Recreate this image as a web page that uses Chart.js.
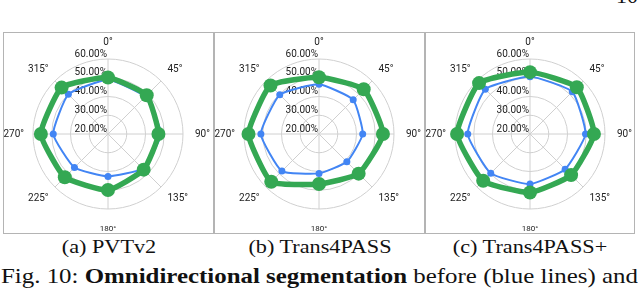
<!DOCTYPE html>
<html>
<head>
<meta charset="utf-8">
<script src="https://cdn.jsdelivr.net/npm/chart.js@4.4.1/dist/chart.umd.min.js"></script>
<style>
  html, body { margin: 0; padding: 0; background: #fff; }
  body { width: 640px; height: 288px; position: relative; overflow: hidden; }
  .box { position: absolute; top: 32px; height: 202px; border: 1px solid #b4b4b4; box-sizing: border-box; }
  .box canvas { position: absolute; left: 0; top: 0; }
  .cap { position: absolute; top: 236px; width: 200px; font-family: "Liberation Serif", "Times New Roman", serif; font-size: 19px; line-height: 22px; color: #111; text-align: center; white-space: nowrap; transform: scaleX(1.17); transform-origin: 50% 50%; }
  .fig { position: absolute; left: 1px; top: 263px; font-family: "Liberation Serif", "Times New Roman", serif; font-size: 22px; line-height: 26px; color: #111; white-space: nowrap; transform-origin: 0 0; }
  .pg { position: absolute; right: 2px; top: -17px; font-family: "Liberation Serif", serif; font-size: 22px; color: #111; }
</style>
</head>
<body>
<div class="pg">10</div>
<div class="box" style="left:3px;width:211px"><canvas id="pvt" width="209" height="200"></canvas></div>
<div class="box" style="left:214px;width:211px"><canvas id="trans" width="209" height="200"></canvas></div>
<div class="box" style="left:425px;width:210px"><canvas id="plus" width="208" height="200"></canvas></div>
<div class="cap" style="left:9px">(a) PVTv2</div>
<div class="cap" style="left:220px">(b) Trans4PASS</div>
<div class="cap" style="left:430px">(c) Trans4PASS+</div>
<div class="fig" id="fig">Fig. 10: <b>Omnidirectional segmentation</b> before (blue lines) and</div>
<script>
/* Dane do wykresów */
var angleLabels = ['0°', '45°', '90°', '135°', '180°', '225°', '270°', '315°'];
var tickValues = [20, 30, 40, 50, 60];

var pvtBefore = [48.9, 48.0, 48.3, 46.0, 42.6, 45.3, 49.2, 49.9];
var pvtAfter = [50.1, 49.2, 46.9, 46.9, 49.9, 52.6, 55.8, 55.0];
var transBefore = [46.5, 45.8, 43.3, 41.0, 41.0, 48.0, 51.0, 49.6];
var transAfter = [50.3, 53.7, 54.1, 49.9, 46.7, 56.0, 57.6, 56.6];
var plusBefore = [50.6, 51.9, 49.6, 46.5, 46.7, 49.6, 53.2, 53.7];
var plusAfter = [53.0, 55.3, 54.1, 51.0, 51.2, 55.3, 58.9, 58.4];

var blue = '#4285F4';
var green = '#34A853';

/* Podpis rozciągnięty na całą szerokość */
var fig = document.getElementById('fig');
fig.style.transform = 'scaleX(' + (637 / fig.offsetWidth) + ')';

/* Etykiety skali i kątów rysowane obok siatki */
var labelPlugin = {
    id: 'radarLabels',
    beforeDatasetsDraw: function (chart) {
        var r = chart.scales.r;
        var ctx = chart.ctx;
        ctx.save();
        ctx.fillStyle = '#222';
        ctx.font = '10px Roboto';
        ctx.textAlign = 'right';
        ctx.textBaseline = 'middle';
        tickValues.forEach(function (v) {
            var d = r.getDistanceFromCenterForValue(v);
            ctx.fillText(v.toFixed(2) + '%', r.xCenter - 1, r.yCenter - d - 5);
        });
        angleLabels.forEach(function (lab, i) {
            var deg = i * 45;
            var pad = 9;
            if (deg === 0 || deg === 90) pad = 12;
            if (deg === 180) pad = 16;
            var p = r.getPointPosition(i, r.drawingArea + pad);
            ctx.font = (deg === 180 ? '8px' : '10px') + ' Roboto';
            ctx.textAlign = (deg === 0 || deg === 180) ? 'center' : (deg < 180 ? 'left' : 'right');
            ctx.textBaseline = (deg === 90 || deg === 270) ? 'middle' : ((deg < 90 || deg > 270) ? 'bottom' : 'top');
            ctx.fillText(lab, p.x, p.y);
        });
        ctx.restore();
    }
};

var makeRadar = function (id, before, after, rightPad) {
    return new Chart(document.getElementById(id), {
        type: 'radar',
        data: {
            labels: angleLabels,
            datasets: [
                {
                    label: 'before',
                    data: before,
                    borderColor: blue,
                    backgroundColor: blue,
                    pointBackgroundColor: blue,
                    borderWidth: 2,
                    pointRadius: 3.5,
                    pointBorderWidth: 0,
                    tension: 0.15,
                    fill: false,
                    order: 1
                },
                {
                    label: 'after',
                    data: after,
                    borderColor: green,
                    backgroundColor: green,
                    pointBackgroundColor: green,
                    borderWidth: 5.5,
                    pointRadius: 7,
                    pointBorderWidth: 0,
                    tension: 0.15,
                    fill: false,
                    order: 0
                }
            ]
        },
        options: {
            responsive: false,
            maintainAspectRatio: false,
            animation: false,
            layout: { padding: { left: 29, right: rightPad, top: 26, bottom: 24 } },
            plugins: { legend: { display: false }, tooltip: { enabled: false } },
            scales: {
                r: {
                    min: 20,
                    max: 60,
                    ticks: { display: false, stepSize: 10 },
                    pointLabels: { display: false },
                    grid: { circular: true, color: '#d0d0d0', lineWidth: 1 },
                    angleLines: { color: '#d0d0d0', lineWidth: 1 }
                }
            }
        },
        plugins: [labelPlugin]
    });
};

var chartPvt = makeRadar('pvt', pvtBefore, pvtAfter, 30);
var chartTrans = makeRadar('trans', transBefore, transAfter, 30);
var chartPlus = makeRadar('plus', plusBefore, plusAfter, 29);
</script>
</body>
</html>
